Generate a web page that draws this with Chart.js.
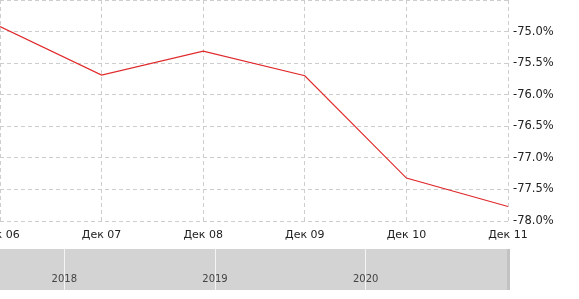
<!DOCTYPE html>
<html>
<head>
<meta charset="utf-8">
<script src="https://cdn.jsdelivr.net/npm/chart.js@4.4.1/dist/chart.umd.min.js"></script>
<style>
  html, body { margin: 0; padding: 0; background: #fff; overflow: hidden; }
  #wrap { position: relative; width: 579px; height: 299px; }
  #mainBox { position: absolute; left: 0; top: 0; width: 579px; height: 249px; }
  #navBox { position: absolute; left: 0; top: 249px; width: 507px; height: 41px;
            background: #d3d3d3; border-right: 3px solid #c2c2c2; }
</style>
</head>
<body>
<div id="wrap">
  <div id="mainBox"><canvas id="chart1"></canvas></div>
  <div id="navBox"><canvas id="chart2"></canvas></div>
</div>
<script>
// data
var months = ['Дек 06', 'Дек 07', 'Дек 08', 'Дек 09', 'Дек 10', 'Дек 11'];
var values = [-74.92, -75.69, -75.31, -75.70, -77.32, -77.77];
var yTicks = [-74.5, -75.0, -75.5, -76.0, -76.5, -77.0, -77.5, -78.0];
var navYears = [2018, 2019, 2020];
var navRange = [2017.573, 2020.938];

Chart.defaults.font.family = "'DejaVu Sans', Verdana, sans-serif";
Chart.defaults.animation = false;

var ctx1 = document.getElementById('chart1').getContext('2d');
var chart1 = new Chart(ctx1, {
  type: 'line',
  data: {
    labels: months,
    datasets: [{
      data: values,
      borderColor: '#e0292b',
      borderWidth: 1.2,
      pointRadius: 0,
      tension: 0,
      fill: false
    }]
  },
  options: {
    responsive: true,
    maintainAspectRatio: false,
    layout: { padding: 0 },
    plugins: { legend: { display: false }, tooltip: { enabled: false } },
    scales: {
      x: {
        offset: false,
        border: { display: false, dash: [4, 3] },
        grid: { color: '#cdcdcd', drawTicks: false },
        ticks: { color: '#222', font: { size: 11 }, padding: 8, maxRotation: 0, autoSkip: false },
        afterFit: function(scale) {
          scale.height = 28;
          scale.paddingLeft = 0;
          scale.paddingRight = 0;
        }
      },
      y: {
        position: 'right',
        min: -78,
        max: -74.5,
        border: { display: false, dash: [4, 3] },
        grid: { color: '#cdcdcd', drawTicks: false },
        afterBuildTicks: function(scale) {
          scale.ticks = yTicks.map(function(v) { return { value: v }; });
        },
        ticks: {
          color: '#222',
          font: { size: 11.5 },
          padding: 5,
          autoSkip: false,
          callback: function(v) {
            if (v > -74.75) return '';
            return v.toFixed(1) + '%';
          }
        },
        afterFit: function(scale) {
          scale.width = 71;
          scale.paddingTop = 0;
          scale.paddingBottom = 0;
        }
      }
    }
  }
});

// navigator strip under the chart
var ctx2 = document.getElementById('chart2').getContext('2d');
var chart2 = new Chart(ctx2, {
  type: 'line',
  data: { datasets: [] },
  options: {
    responsive: true,
    maintainAspectRatio: false,
    layout: { padding: 0 },
    plugins: { legend: { display: false }, tooltip: { enabled: false } },
    scales: {
      x: {
        type: 'linear',
        min: navRange[0],
        max: navRange[1],
        border: { display: false },
        grid: { color: '#f4f4f4', lineWidth: 1, drawTicks: true, tickLength: 20 },
        afterBuildTicks: function(scale) {
          scale.ticks = navYears.map(function(v) { return { value: v }; });
        },
        ticks: {
          color: '#444',
          font: { size: 10 },
          padding: -17,
          maxRotation: 0,
          autoSkip: false,
          callback: function(v) { return String(v); }
        },
        afterFit: function(scale) {
          scale.height = 20;
          scale.paddingLeft = 0;
          scale.paddingRight = 0;
        }
      },
      y: { display: false }
    }
  }
});
</script>
</body>
</html>
